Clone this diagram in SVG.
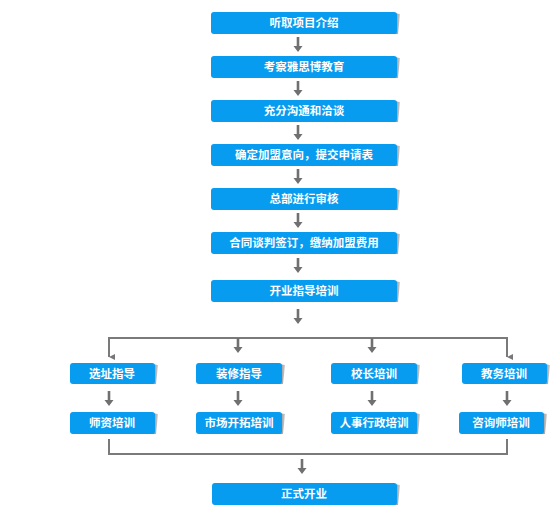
<svg xmlns="http://www.w3.org/2000/svg" width="555" height="524" viewBox="0 0 555 524">
<defs>
<linearGradient id="sh" x1="0" y1="0" x2="1" y2="0">
<stop offset="0" stop-color="#7a7a7a"/>
<stop offset="1" stop-color="#d0d0d0"/>
</linearGradient>
<marker id="ah" viewBox="0 0 10 10" refX="5" refY="10" markerWidth="6" markerHeight="6" markerUnits="userSpaceOnUse" orient="auto-start-reverse">
<path d="M0,0 L10,0 L5,10 Z" fill="#777"/>
</marker>
<path id="arr" d="M-1.3,0 H1.3 V9 H4.5 L0,15 L-4.5,9 H-1.3 Z" fill="#707070"/>
</defs>
<style>
.box{fill:#079cf0}
.shd{fill:url(#sh)}
.t{font-family:"Noto Sans CJK SC","Noto Sans CJK TC",sans-serif;font-size:11.5px;font-weight:bold;fill:#fff;text-anchor:middle}
.ln{fill:none;stroke:#7a7a7a;stroke-width:2}
</style>
<rect width="555" height="524" fill="#fff"/>

<g id="connectors">
<use href="#arr" x="298" y="37"/>
<use href="#arr" x="298" y="81"/>
<use href="#arr" x="298" y="125"/>
<use href="#arr" x="298" y="169"/>
<use href="#arr" x="298" y="213"/>
<use href="#arr" x="298" y="258"/>
<use href="#arr" x="298" y="309"/>
<path class="ln" d="M109,357 V338 H507 V357" marker-start="url(#ah)" marker-end="url(#ah)"/>
<use href="#arr" x="238" y="338"/>
<use href="#arr" x="372" y="338"/>
<use href="#arr" x="109" y="391"/>
<use href="#arr" x="238" y="391"/>
<use href="#arr" x="372" y="391"/>
<use href="#arr" x="507" y="391"/>
<path class="ln" d="M109,439 V454 H507 V439"/>
<use href="#arr" x="302" y="459"/>
</g>

<g id="n1"><polygon class="shd" points="394,13 400,14 398,34 394,34"/><rect class="box" x="211" y="12" width="186" height="22" rx="3"/><text class="t" x="304" y="27">听取项目介绍</text></g>
<g id="n2"><polygon class="shd" points="394,57 400,58 398,78 394,78"/><rect class="box" x="211" y="56" width="186" height="22" rx="3"/><text class="t" x="304" y="71">考察雅思博教育</text></g>
<g id="n3"><polygon class="shd" points="394,101 400,102 398,122 394,122"/><rect class="box" x="211" y="100" width="186" height="22" rx="3"/><text class="t" x="304" y="115">充分沟通和洽谈</text></g>
<g id="n4"><polygon class="shd" points="394,145 400,146 398,166 394,166"/><rect class="box" x="211" y="144" width="186" height="22" rx="3"/><text class="t" x="304" y="159">确定加盟意向，提交申请表</text></g>
<g id="n5"><polygon class="shd" points="394,189 400,190 398,210 394,210"/><rect class="box" x="211" y="188" width="186" height="22" rx="3"/><text class="t" x="304" y="203">总部进行审核</text></g>
<g id="n6"><polygon class="shd" points="394,233 400,234 398,254 394,254"/><rect class="box" x="211" y="232" width="186" height="22" rx="3"/><text class="t" x="304" y="247">合同谈判签订，缴纳加盟费用</text></g>
<g id="n7"><polygon class="shd" points="394,281 400,282 398,302 394,302"/><rect class="box" x="211" y="280" width="186" height="22" rx="3"/><text class="t" x="304" y="295">开业指导培训</text></g>

<g id="a1"><polygon class="shd" points="152,364 158,365 156,384 152,384"/><rect class="box" x="70" y="363" width="85" height="21" rx="3"/><text class="t" x="112" y="378">选址指导</text></g>
<g id="a2"><polygon class="shd" points="279,364 285,365 283,384 279,384"/><rect class="box" x="196" y="363" width="86" height="21" rx="3"/><text class="t" x="239" y="378">装修指导</text></g>
<g id="a3"><polygon class="shd" points="414,364 420,365 418,384 414,384"/><rect class="box" x="331" y="363" width="86" height="21" rx="3"/><text class="t" x="374" y="378">校长培训</text></g>
<g id="a4"><polygon class="shd" points="544,364 550,365 548,384 544,384"/><rect class="box" x="462" y="363" width="85" height="21" rx="3"/><text class="t" x="504" y="378">教务培训</text></g>

<g id="b1"><polygon class="shd" points="152,413 158,414 156,434 152,434"/><rect class="box" x="70" y="412" width="85" height="22" rx="3"/><text class="t" x="112" y="427">师资培训</text></g>
<g id="b2"><polygon class="shd" points="279,413 285,414 283,434 279,434"/><rect class="box" x="196" y="412" width="86" height="22" rx="3"/><text class="t" x="239" y="427">市场开拓培训</text></g>
<g id="b3"><polygon class="shd" points="414,413 420,414 418,434 414,434"/><rect class="box" x="331" y="412" width="86" height="22" rx="3"/><text class="t" x="374" y="427">人事行政培训</text></g>
<g id="b4"><polygon class="shd" points="541,413 547,414 545,434 541,434"/><rect class="box" x="459" y="412" width="85" height="22" rx="3"/><text class="t" x="501" y="427">咨询师培训</text></g>

<g id="n8"><polygon class="shd" points="394,484 400,485 398,505 394,505"/><rect class="box" x="212" y="483" width="185" height="22" rx="3"/><text class="t" x="304" y="498">正式开业</text></g>
</svg>
